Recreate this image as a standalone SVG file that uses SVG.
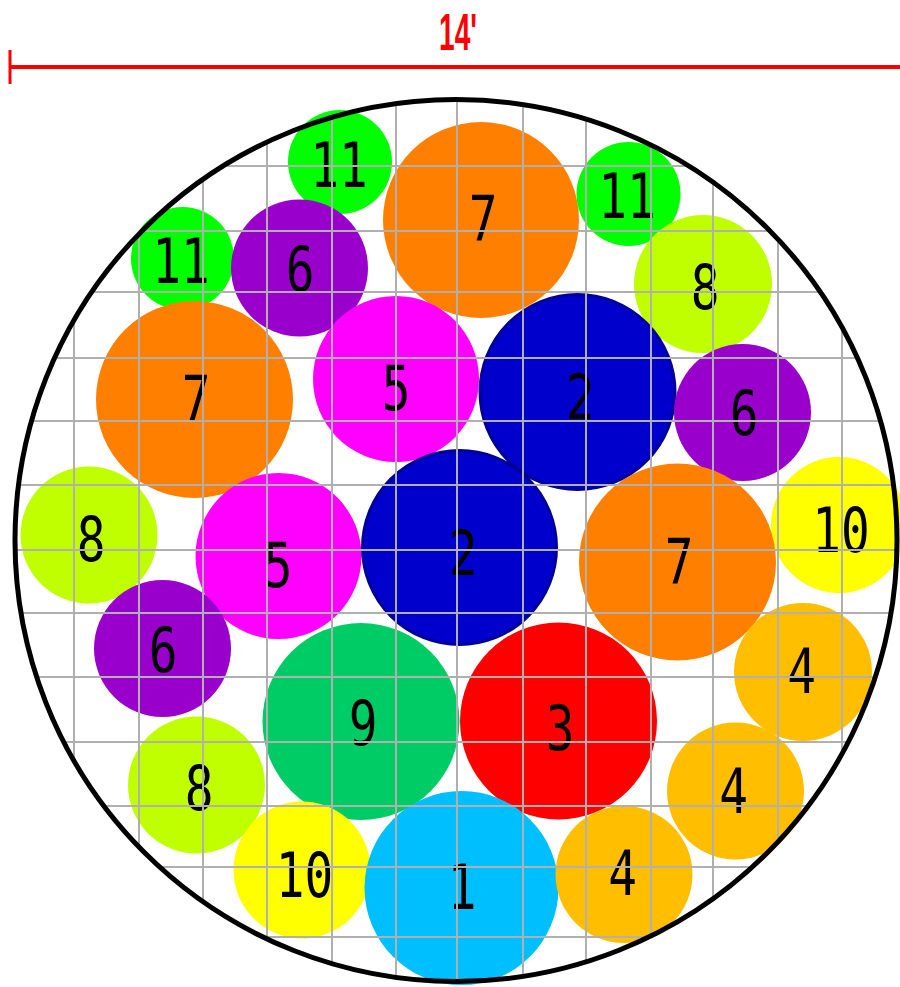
<svg xmlns="http://www.w3.org/2000/svg" width="900" height="987" viewBox="0 0 900 987">
<style>
.lbl{font-family:"DejaVu Sans Mono","Liberation Mono",monospace;font-size:62px;fill:#000;text-anchor:middle}
.c11{fill:#00ff00}.c6{fill:#9900cc}.c7{fill:#ff8000}.c8{fill:#bfff00}.c5{fill:#ff00ff}
.c2{fill:#0000cc;stroke:#000099;stroke-width:3}.c10{fill:#ffff00}.c4{fill:#ffbf00}
.c9{fill:#00cc66}.c3{fill:#ff0000}.c1{fill:#00bfff}
.grid line{stroke:#b0b0b0;stroke-width:2}
</style>
<defs>
<clipPath id="clip"><circle cx="456" cy="540.5" r="441"/></clipPath>
</defs>
<rect width="900" height="987" fill="#fff"/>
<g id="dimension">
<line x1="10" y1="67" x2="900" y2="67" stroke="#ff0000" stroke-width="4"/>
<line x1="10" y1="50" x2="10" y2="84" stroke="#ff0000" stroke-width="3"/>
<text transform="translate(458,50) scale(0.55,1)" style="font-family:'Liberation Sans',sans-serif;font-size:51px;font-weight:bold;fill:#ff0000;text-anchor:middle">14'</text>
</g>
<g id="circles">
<g id="n11a"><circle class="c11" cx="340" cy="162" r="52"/></g>
<g id="n11b"><circle class="c11" cx="182.5" cy="258.5" r="51.5"/></g>
<g id="n6a"><circle class="c6" cx="299.5" cy="268" r="68.5"/></g>
<g id="n7a"><circle class="c7" cx="481" cy="220" r="98"/></g>
<g id="n11c"><circle class="c11" cx="628.5" cy="194" r="52"/></g>
<g id="n8a"><circle class="c8" cx="703" cy="284" r="69"/></g>
<g id="n7b"><circle class="c7" cx="194.5" cy="399.5" r="98.5"/></g>
<g id="n5a"><circle class="c5" cx="396" cy="379" r="83"/></g>
<g id="n2a"><circle class="c2" cx="577.5" cy="392" r="97.5"/></g>
<g id="n6b"><circle class="c6" cx="742.5" cy="412.5" r="68.5"/></g>
<g id="n10a"><circle class="c10" cx="839" cy="525" r="68"/></g>
<g id="n7c"><circle class="c7" cx="677.5" cy="562" r="98.5"/></g>
<g id="n8b"><circle class="c8" cx="89" cy="535" r="68.5"/></g>
<g id="n5b"><circle class="c5" cx="278.5" cy="556" r="83"/></g>
<g id="n2b"><circle class="c2" cx="459.5" cy="547.5" r="97"/></g>
<g id="n6c"><circle class="c6" cx="162.5" cy="648.5" r="68.5"/></g>
<g id="n9"><circle class="c9" cx="361" cy="721.5" r="98.5"/></g>
<g id="n3"><circle class="c3" cx="558.5" cy="721" r="98.5"/></g>
<g id="n4a"><circle class="c4" cx="803" cy="672" r="69"/></g>
<g id="n8c"><circle class="c8" cx="196.5" cy="785" r="68.5"/></g>
<g id="n4b"><circle class="c4" cx="735.5" cy="791" r="68.5"/></g>
<g id="n10b"><circle class="c10" cx="302" cy="870" r="68.5"/></g>
<g id="n1"><circle class="c1" cx="461.5" cy="888" r="97"/></g>
<g id="n4c"><circle class="c4" cx="624" cy="874.5" r="68.5"/></g>
</g>
<g id="labels">
<text class="lbl" transform="translate(339,187) scale(0.77,1)">11</text>
<text class="lbl" transform="translate(181,283) scale(0.77,1)">11</text>
<text class="lbl" transform="translate(300,291) scale(0.77,1)">6</text>
<text class="lbl" transform="translate(483,240) scale(0.77,1)">7</text>
<text class="lbl" transform="translate(627,218) scale(0.77,1)">11</text>
<text class="lbl" transform="translate(705,309) scale(0.77,1)">8</text>
<text class="lbl" transform="translate(196,420) scale(0.77,1)">7</text>
<text class="lbl" transform="translate(396,410) scale(0.77,1)">5</text>
<text class="lbl" transform="translate(580,419) scale(0.77,1)">2</text>
<text class="lbl" transform="translate(744,435) scale(0.77,1)">6</text>
<text class="lbl" transform="translate(841,552) scale(0.77,1)">10</text>
<text class="lbl" transform="translate(679,583) scale(0.77,1)">7</text>
<text class="lbl" transform="translate(91,561) scale(0.77,1)">8</text>
<text class="lbl" transform="translate(278,587) scale(0.77,1)">5</text>
<text class="lbl" transform="translate(463,575) scale(0.77,1)">2</text>
<text class="lbl" transform="translate(163,672) scale(0.77,1)">6</text>
<text class="lbl" transform="translate(363,745) scale(0.77,1)">9</text>
<text class="lbl" transform="translate(560,750) scale(0.77,1)">3</text>
<text class="lbl" transform="translate(801.5,693) scale(0.77,1)">4</text>
<text class="lbl" transform="translate(199,810) scale(0.77,1)">8</text>
<text class="lbl" transform="translate(733.5,813) scale(0.77,1)">4</text>
<text class="lbl" transform="translate(304.5,897) scale(0.77,1)">10</text>
<text class="lbl" transform="translate(462,909) scale(0.77,1)">1</text>
<text class="lbl" transform="translate(622.5,895) scale(0.77,1)">4</text>
</g>
<g id="grid" class="grid" clip-path="url(#clip)">
<line x1="74" y1="0" x2="74" y2="987"/>
<line x1="139" y1="0" x2="139" y2="987"/>
<line x1="203" y1="0" x2="203" y2="987"/>
<line x1="267" y1="0" x2="267" y2="987"/>
<line x1="332" y1="0" x2="332" y2="987"/>
<line x1="396" y1="0" x2="396" y2="987"/>
<line x1="457" y1="0" x2="457" y2="987"/>
<line x1="523" y1="0" x2="523" y2="987"/>
<line x1="586" y1="0" x2="586" y2="987"/>
<line x1="651" y1="0" x2="651" y2="987"/>
<line x1="713" y1="0" x2="713" y2="987"/>
<line x1="778" y1="0" x2="778" y2="987"/>
<line x1="842" y1="0" x2="842" y2="987"/>
<line x1="0" y1="166" x2="900" y2="166"/>
<line x1="0" y1="231" x2="900" y2="231"/>
<line x1="0" y1="292" x2="900" y2="292"/>
<line x1="0" y1="358" x2="900" y2="358"/>
<line x1="0" y1="421" x2="900" y2="421"/>
<line x1="0" y1="485" x2="900" y2="485"/>
<line x1="0" y1="550" x2="900" y2="550"/>
<line x1="0" y1="613" x2="900" y2="613"/>
<line x1="0" y1="677" x2="900" y2="677"/>
<line x1="0" y1="742" x2="900" y2="742"/>
<line x1="0" y1="806" x2="900" y2="806"/>
<line x1="0" y1="867" x2="900" y2="867"/>
<line x1="0" y1="937" x2="900" y2="937"/>
</g>
<g id="boundary">
<circle cx="456" cy="540.5" r="441" fill="none" stroke="#000" stroke-width="5"/>
</g>
</svg>
